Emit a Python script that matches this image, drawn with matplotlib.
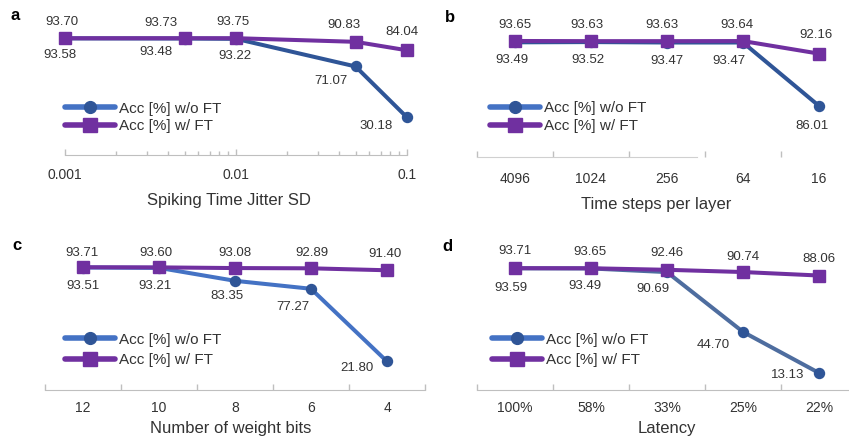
import numpy as np
import matplotlib
matplotlib.use("Agg")
import matplotlib.pyplot as plt

plt.rcParams['font.family'] = ['Liberation Sans', 'DejaVu Sans']

# data
jitter_sd = [0.001, 0.005, 0.01, 0.05, 0.1]
jitter_wo = [93.58, 93.48, 93.22, 71.07, 30.18]
jitter_w = [93.70, 93.73, 93.75, 90.83, 84.04]

steps_labels = ['4096', '1024', '256', '64', '16']
steps_wo = [93.49, 93.52, 93.47, 93.47, 86.01]
steps_w = [93.65, 93.63, 93.63, 93.64, 92.16]

bits_labels = ['12', '10', '8', '6', '4']
bits_wo = [93.51, 93.21, 83.35, 77.27, 21.80]
bits_w = [93.71, 93.60, 93.08, 92.89, 91.40]

lat_labels = ['100%', '58%', '33%', '25%', '22%']
lat_wo = [93.59, 93.49, 90.69, 44.70, 13.13]
lat_w = [93.71, 93.65, 92.46, 90.74, 88.06]

W, H = 849, 437
PURPLE = '#7030A0'
DARKBLUE = '#2F5597'
LIGHTBLUE = '#4472C4'
AXCOL = '#BFBFBF'
TXT = '#333333'

fig = plt.figure(figsize=(W / 100, H / 100), dpi=100)


def px_axes(left, top, right, bottom):
    return fig.add_axes([left / W, 1 - bottom / H, (right - left) / W, (bottom - top) / H])


def style(ax):
    for s in ['left', 'top', 'right']:
        ax.spines[s].set_visible(False)
    ax.spines['bottom'].set_color(AXCOL)
    ax.set_yticks([])
    ax.tick_params(axis='x', which='both', direction='in', colors=AXCOL,
                   labelcolor=TXT, labelsize=10, width=1)


def draw(ax, x, wo, w, line_col, off_wo, off_w):
    ax.plot(x, wo, color=line_col, lw=2.9, marker='o', ms=7.2,
            mfc=DARKBLUE, mec=DARKBLUE, clip_on=False, zorder=3)
    ax.plot(x, w, color=PURPLE, lw=2.9, marker='s', ms=8.6,
            mfc=PURPLE, mec=PURPLE, clip_on=False, zorder=4)
    for xi, v, (dx, dy) in zip(x, wo, off_wo):
        ax.annotate('%.2f' % v, (xi, v), xytext=(dx * 0.72, -dy * 0.72),
                    textcoords='offset points', ha='center', va='center',
                    fontsize=9.5, color=TXT)
    for xi, v, (dx, dy) in zip(x, w, off_w):
        ax.annotate('%.2f' % v, (xi, v), xytext=(dx * 0.72, -dy * 0.72),
                    textcoords='offset points', ha='center', va='center',
                    fontsize=9.5, color=TXT)


def legend(ax, x, yc, spacing):
    h1, = ax.plot([], [], color=LIGHTBLUE, lw=4, marker='o', ms=8.5,
                  mfc=DARKBLUE, mec=DARKBLUE, solid_capstyle='round')
    h2, = ax.plot([], [], color=PURPLE, lw=4, marker='s', ms=10,
                  mfc=PURPLE, mec=PURPLE, solid_capstyle='round')
    ax.legend([h1, h2], ['Acc [%] w/o FT', 'Acc [%] w/ FT'], loc='center left',
              bbox_to_anchor=(x / W, 1 - yc / H), bbox_transform=fig.transFigure,
              frameon=False, fontsize=11, handlelength=3.3, handletextpad=0.25,
              borderpad=0, borderaxespad=0, labelspacing=spacing,
              labelcolor=TXT)


def cat_axis(ax, labels):
    ax.set_xlim(-0.5, 4.5)
    ax.set_xticks(range(len(labels)))
    ax.set_xticklabels(labels)
    ax.set_xticks(np.arange(-0.5, len(labels), 1), minor=True)
    ax.tick_params(axis='x', which='major', length=0)
    ax.tick_params(axis='x', which='minor', length=4)


# panel a
ax = px_axes(65, 30.4, 407, 155)
style(ax)
ax.set_xscale('log')
ax.set_xlim(0.001, 0.1)
ax.set_ylim(0, 100)
ax.set_xticks([0.001, 0.01, 0.1])
ax.set_xticklabels(['0.001', '0.01', '0.1'])
ax.tick_params(axis='x', which='major', length=4, pad=9)
ax.tick_params(axis='x', which='minor', length=3)
draw(ax, jitter_sd, jitter_wo, jitter_w, DARKBLUE,
     [(-5, 17), (-29, 13), (-1, 17), (-25, 15), (-31, 9)],
     [(-3, -16), (-24, -15), (-3, -16), (-12, -17), (-5, -18)])
legend(ax, 65, 117.5, 0.25)

# panel b
ax = px_axes(477, 29.5, 857, 157)
style(ax)
cat_axis(ax, steps_labels)
ax.set_ylim(80, 95)
ax.spines['bottom'].set_bounds(-0.5, 2.4)
ax.spines['bottom'].set_color('#D0D0D0')
ax.tick_params(axis='x', which='major', pad=11)
draw(ax, range(5), steps_wo, steps_w, DARKBLUE,
     [(-3, 18), (-3, 18), (0, 18), (-14, 18), (-7, 20)],
     [(0, -16), (-4, -16), (-5, -16), (-6, -16), (-3, -19)])
legend(ax, 490, 117, 0.25)

# panel c
ax = px_axes(45, 259, 425, 390)
style(ax)
cat_axis(ax, bits_labels)
ax.set_ylim(0, 100)
ax.tick_params(axis='x', which='major', pad=8)
draw(ax, range(5), bits_wo, bits_w, LIGHTBLUE,
     [(0, 18), (-4, 18), (-8, 15), (-18, 18), (-30, 7)],
     [(-1, -14), (-3, -14), (0, -15), (1, -15), (-2, -16)])
legend(ax, 65, 350, 0.45)

# panel d
ax = px_axes(477, 260, 857, 390)
style(ax)
cat_axis(ax, lat_labels)
ax.set_ylim(0, 100)
ax.tick_params(axis='x', which='major', pad=8)
draw(ax, range(5), lat_wo, lat_w, '#4E6D9F',
     [(-4, 20), (-6, 18), (-14, 17), (-30, 13), (-31, 2)],
     [(0, -17), (-1, -16), (0, -17), (0, -15), (0, -17)])
legend(ax, 492, 350, 0.45)

# axis titles and panel letters
for txt, x, y in [('Spiking Time Jitter SD', 229, 200), ('Time steps per layer', 656, 205),
                  ('Number of weight bits', 231, 428), ('Latency', 667, 429)]:
    fig.text(x / W, 1 - y / H, txt, ha='center', va='center', fontsize=12, color=TXT)
for txt, x, y in [('a', 15, 16), ('b', 450, 18), ('c', 17, 246), ('d', 447, 247)]:
    fig.text(x / W, 1 - y / H, txt, ha='center', va='center', fontsize=12,
             fontweight='bold', color='black')

fig.savefig('out.png', dpi=100)
